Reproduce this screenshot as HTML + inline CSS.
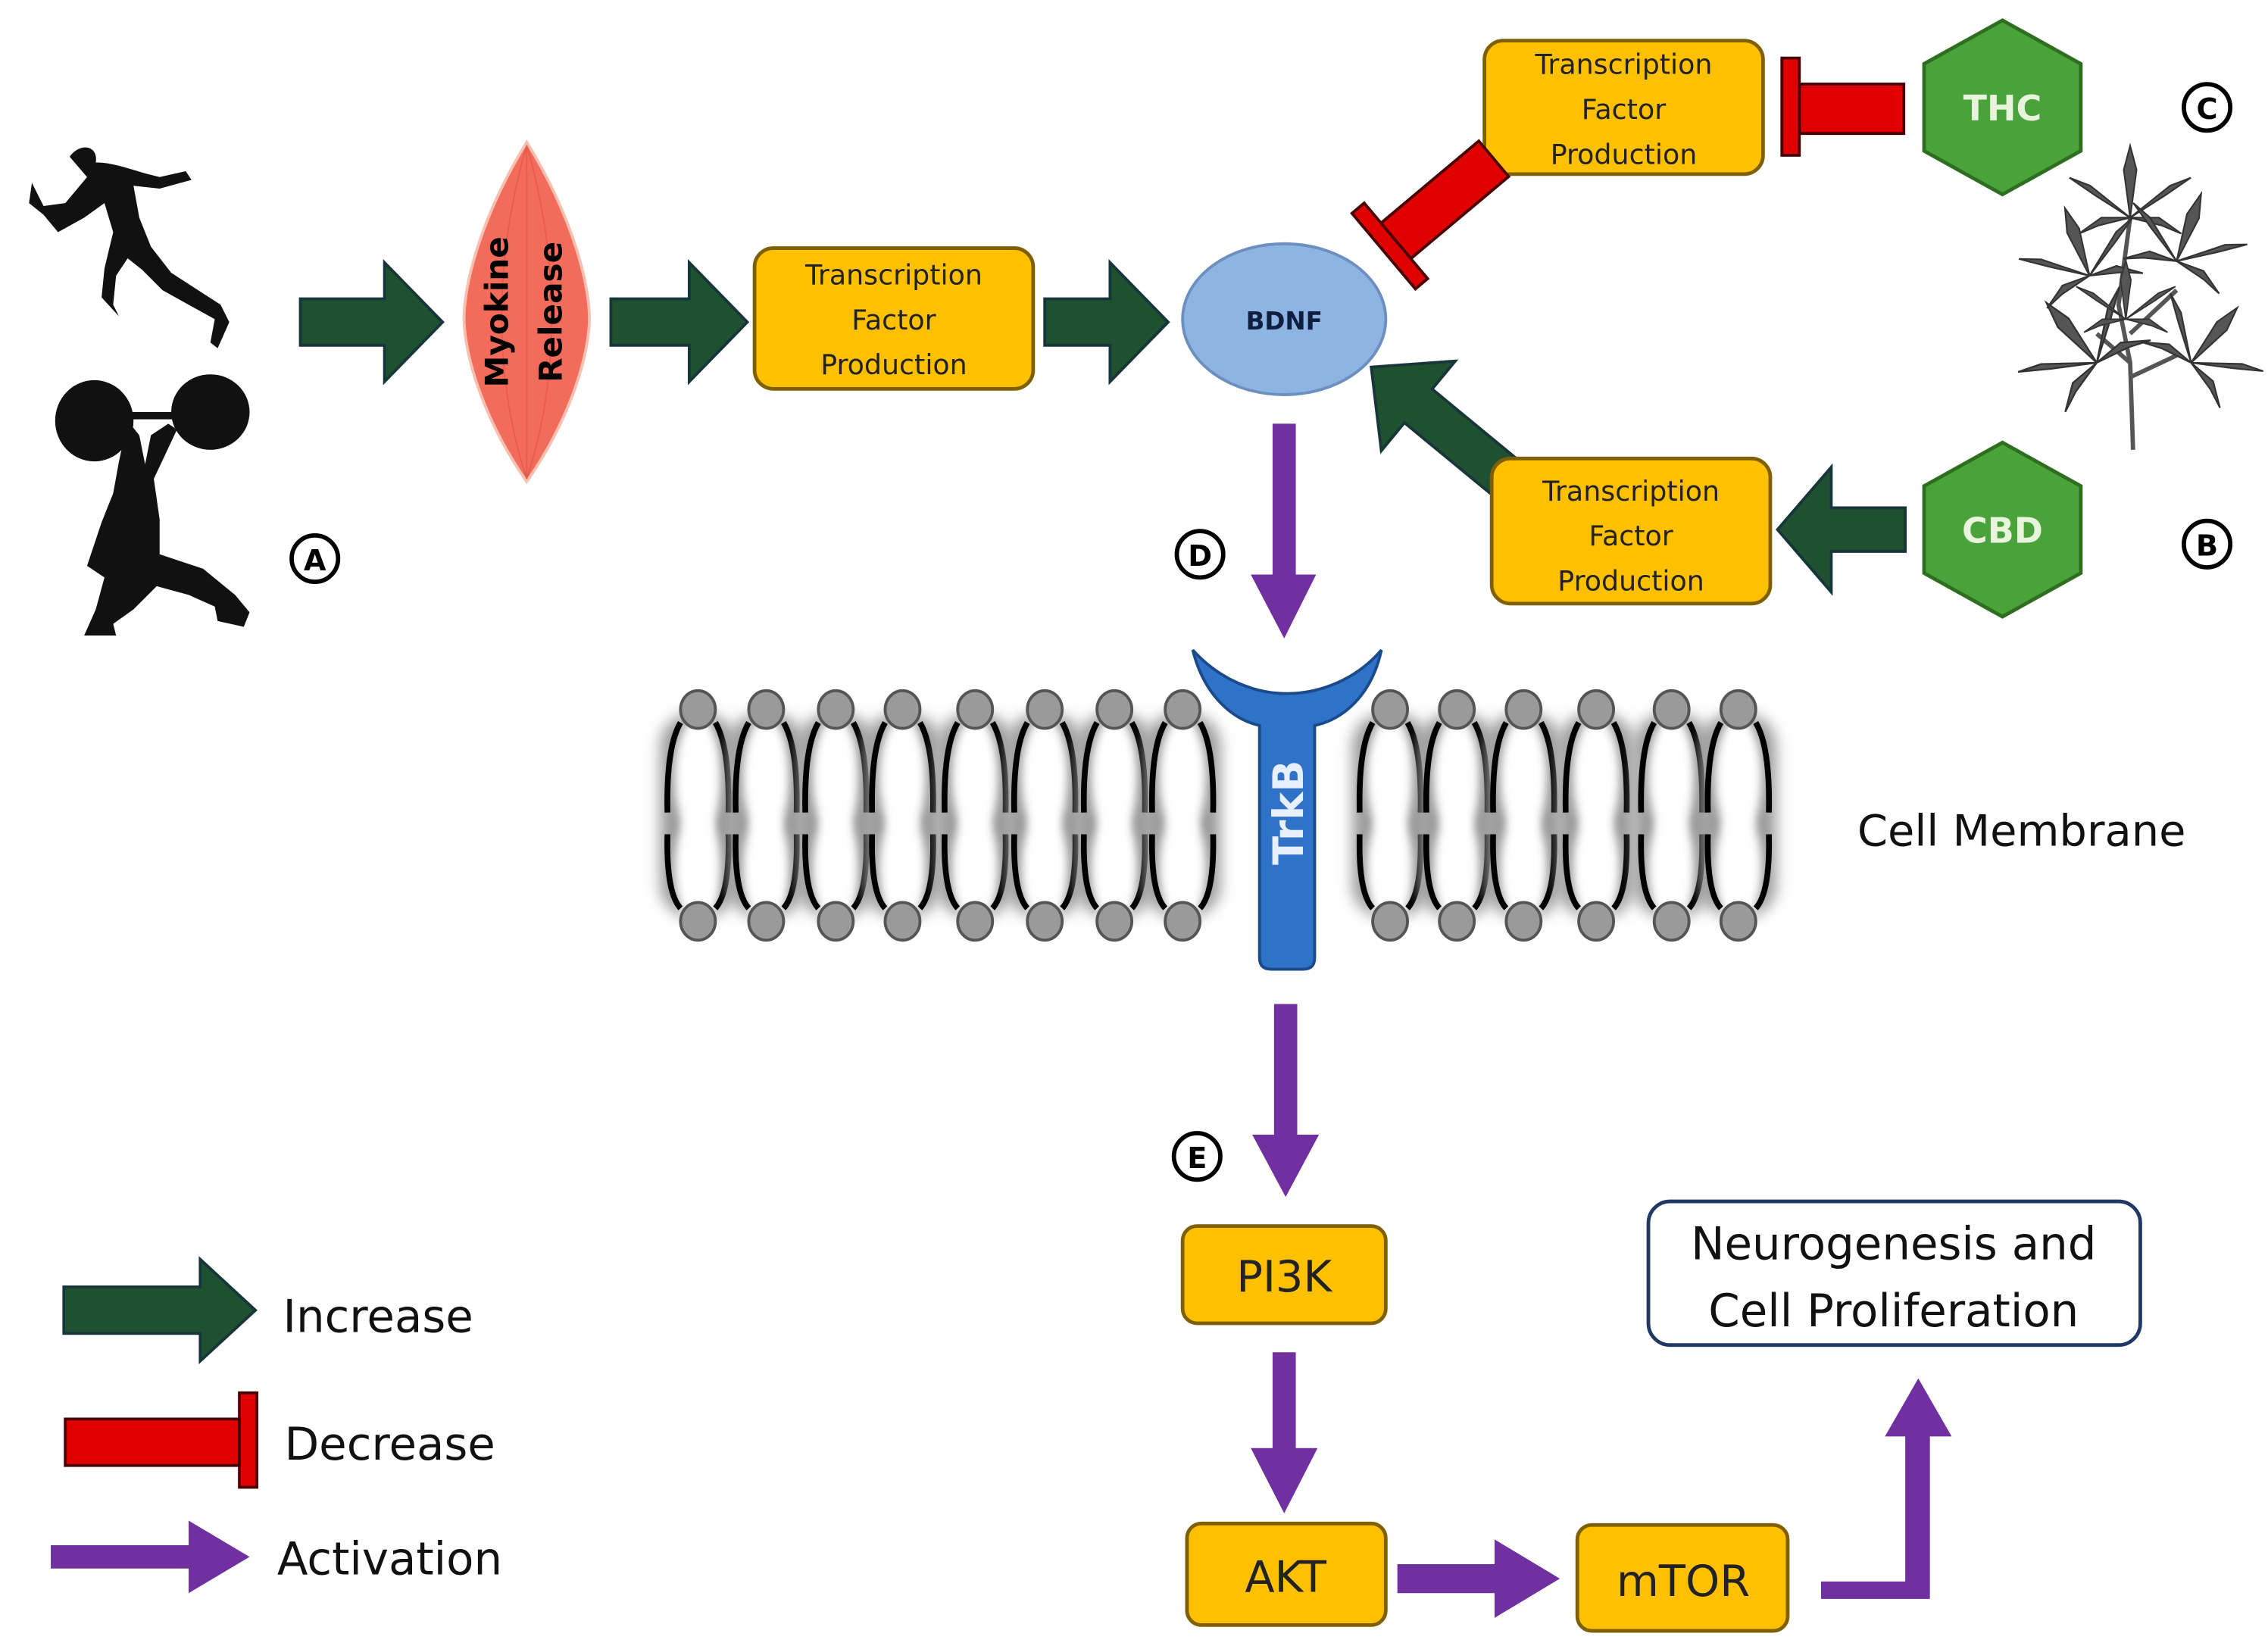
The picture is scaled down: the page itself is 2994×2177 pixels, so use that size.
<!DOCTYPE html>
<html><head><meta charset="utf-8"><style>
html,body{margin:0;padding:0;background:#fff;}
svg{display:block;}
text{font-family:"DejaVu Sans","Liberation Sans",sans-serif;}
</style></head><body>
<svg width="2994" height="2177" viewBox="0 0 1563 1136.5" preserveAspectRatio="none" xmlns="http://www.w3.org/2000/svg">
<defs>
<filter id="bl" x="-50%" y="-20%" width="200%" height="140%"><feGaussianBlur stdDeviation="5"/></filter>
<filter id="bl2"><feGaussianBlur stdDeviation="3"/></filter>
<g id="lip">
  <rect x="-26" y="492" width="52" height="140" rx="22" fill="#9a9a9a" filter="url(#bl)"/>
  <ellipse cx="0" cy="536" rx="16" ry="42" fill="#fff" filter="url(#bl2)"/>
  <ellipse cx="0" cy="598" rx="16" ry="40" fill="#fff" filter="url(#bl2)"/>
  <path d="M-12,498 Q-22,515 -21,560 M12,498 Q22,515 21,560 M-21,575 Q-22,615 -12,626 M21,575 Q22,615 12,626" stroke="#000" stroke-width="4" fill="none"/>
  <ellipse cx="0" cy="489" rx="12" ry="13" fill="#9a9a9a" stroke="#555" stroke-width="2"/>
  <ellipse cx="0" cy="635" rx="12" ry="13" fill="#9a9a9a" stroke="#555" stroke-width="2"/>
</g>
<g id="leaf" fill="#555" stroke="#333" stroke-width="1">
  <path d="M0,0 L-4,-30 L0,-45 L4,-30Z"/>
  <path d="M0,0 L-25,-20 L-38,-25 L-22,-14Z"/>
  <path d="M0,0 L25,-20 L38,-25 L22,-14Z"/>
  <path d="M0,0 L-20,5 L-32,10 L-18,0Z"/>
  <path d="M0,0 L20,5 L32,10 L18,0Z"/>
</g>
</defs>

<!-- runner -->
<path d="M48,108 C55,98 68,100 66,112 C80,112 92,118 110,122 L128,118 L132,124 L110,130 L92,128 L96,150 L104,170 L118,188 L152,210 L158,222 L150,240 L145,236 L148,220 L112,200 L98,186 L88,178 L80,190 L78,210 L82,218 L70,205 L72,185 L78,160 L72,140 L58,150 L40,160 L30,148 L20,140 L22,126 L30,142 L45,140 L60,122 Z" fill="#111"/>
<!-- weightlifter -->
<ellipse cx="65" cy="290" rx="27" ry="28" fill="#111"/>
<ellipse cx="145" cy="284" rx="27" ry="26" fill="#111"/>
<rect x="85" y="284" width="40" height="5" fill="#111"/>
<path d="M88,290 L96,300 L100,320 L104,300 L116,292 L122,296 L106,330 L110,358 L110,382 L140,392 L162,410 L172,422 L168,432 L150,428 L148,418 L130,410 L108,404 L92,420 L78,430 L80,438 L58,438 L66,420 L72,398 L60,390 L70,360 L78,340 L82,318 Z" fill="#111"/>
<circle cx="217" cy="385" r="16" fill="#fff" stroke="#000" stroke-width="3"/>
<text x="217" y="393" font-size="20" text-anchor="middle" font-weight="bold">A</text>

<!-- green arrows -->
<g fill="#1f5130" stroke="#17363a" stroke-width="2">
<path d="M207,206 L265,206 L265,181 L305,222 L265,263 L265,238 L207,238Z"/>
<path d="M421,206 L475,206 L475,181 L515,222 L475,263 L475,238 L421,238Z"/>
<path d="M720,206 L765,206 L765,181 L805,222 L765,263 L765,238 L720,238Z"/>
<path d="M1313,350 L1262,350 L1262,322 L1225,365 L1262,408 L1262,380 L1313,380Z"/>
<path d="M-118,-15 L-42,-15 L-42,-40 L0,0 L-42,40 L-42,15 L-118,15Z" transform="translate(945,253) rotate(219.5)"/>
<path d="M44,887 L138,887 L138,868 L176,903 L138,938 L138,919 L44,919Z"/>
</g>

<!-- muscle -->
<path d="M363,98 C395,150 408,200 406,225 C404,250 392,290 363,332 C334,290 322,250 320,225 C318,200 331,150 363,98Z" fill="#f26b5b" stroke="#f8c0b0" stroke-width="2"/>
<g stroke="#e05545" stroke-width="1" fill="none" opacity="0.6">
<path d="M363,100 C340,180 340,260 363,330"/><path d="M363,100 C386,180 386,260 363,330"/><path d="M363,100 L363,330"/>
</g>
<text transform="translate(350,215) rotate(-90)" font-size="22" font-weight="bold" text-anchor="middle">Myokine</text>
<text transform="translate(387,215) rotate(-90)" font-size="22" font-weight="bold" text-anchor="middle">Release</text>

<!-- TF boxes -->
<g fill="#ffc000" stroke="#7f6000" stroke-width="2.5">
<rect x="520" y="171" width="192" height="97" rx="13"/>
<rect x="1023" y="28" width="192" height="92" rx="13"/>
<rect x="1028" y="316" width="192" height="100" rx="13"/>
<rect x="815" y="845" width="140" height="67" rx="10"/>
<rect x="818" y="1050" width="137" height="70" rx="10"/>
<rect x="1087" y="1051" width="145" height="73" rx="10"/>
</g>
<g font-size="19" text-anchor="middle" fill="#222">
<text x="616" y="196">Transcription</text><text x="616" y="227">Factor</text><text x="616" y="258">Production</text>
<text x="1119" y="51">Transcription</text><text x="1119" y="82">Factor</text><text x="1119" y="113">Production</text>
<text x="1124" y="345">Transcription</text><text x="1124" y="376">Factor</text><text x="1124" y="407">Production</text>
</g>
<g font-size="30" text-anchor="middle" fill="#222">
<text x="885" y="890">PI3K</text><text x="886" y="1097">AKT</text><text x="1160" y="1100">mTOR</text>
</g>

<!-- BDNF -->
<ellipse cx="885" cy="220" rx="70" ry="52" fill="#8eb4e3" stroke="#6d8fc0" stroke-width="2"/>
<text x="885" y="227" font-size="17" font-weight="bold" text-anchor="middle" fill="#0f1f40">BDNF</text>

<!-- red inhibitors -->
<g fill="#e00000" stroke="#4a0000" stroke-width="2">
<path d="M1240,58 L1312,58 L1312,92 L1240,92Z"/>
<path d="M1228,40 L1240,40 L1240,107 L1228,107Z"/>
<path d="M-88,-16 L0,-16 L0,16 L-88,16Z" transform="translate(962,166) rotate(140)"/>
<path d="M0,-34 L11,-34 L11,34 L0,34Z" transform="translate(962,166) rotate(140)"/>
<path d="M45,978 L165,978 L165,1010 L45,1010Z"/>
<path d="M165,960 L177,960 L177,1025 L165,1025Z"/>
</g>

<!-- hexagons -->
<g fill="#4aa23a" stroke="#2d6e1f" stroke-width="2.5">
<path d="M1380,14 L1434,44 L1434,104 L1380,134 L1326,104 L1326,44Z"/>
<path d="M1380,305 L1434,335 L1434,395 L1380,425 L1326,395 L1326,335Z"/>
</g>
<text x="1380" y="83" font-size="24" font-weight="bold" text-anchor="middle" fill="#e8f5dc">THC</text>
<text x="1380" y="374" font-size="24" font-weight="bold" text-anchor="middle" fill="#e8f5dc">CBD</text>
<circle cx="1521" cy="74" r="16" fill="#fff" stroke="#000" stroke-width="3"/>
<text x="1521" y="82" font-size="20" text-anchor="middle" font-weight="bold">C</text>
<circle cx="1521" cy="375" r="16" fill="#fff" stroke="#000" stroke-width="3"/>
<text x="1521" y="383" font-size="20" text-anchor="middle" font-weight="bold">B</text>

<!-- cannabis plant -->
<path d="M1470,310 L1468,250 L1460,210 L1468,150 M1468,250 L1445,230 M1468,230 L1500,200 M1468,260 L1500,245" stroke="#555" stroke-width="3" fill="none"/>
<use href="#leaf" transform="translate(1468,150) scale(1.1)"/>
<use href="#leaf" transform="translate(1440,190) rotate(-20) scale(1.1)"/>
<use href="#leaf" transform="translate(1500,180) rotate(20) scale(1.1)"/>
<use href="#leaf" transform="translate(1445,250) rotate(-40) scale(1.2)"/>
<use href="#leaf" transform="translate(1510,250) rotate(40) scale(1.1)"/>
<use href="#leaf" transform="translate(1465,220) scale(0.9)"/>

<!-- purple arrows -->
<g fill="#7030a0">
<path d="M877,292 L893,292 L893,396 L907,396 L885,440 L862,396 L877,396Z"/>
<path d="M878,692 L894,692 L894,782 L909,782 L886,825 L863,782 L878,782Z"/>
<path d="M877,932 L893,932 L893,998 L908,998 L885,1043 L862,998 L877,998Z"/>
<path d="M963,1078 L1030,1078 L1030,1061 L1075,1088 L1030,1115 L1030,1098 L963,1098Z"/>
<path d="M1255,1090 L1313,1090 L1313,990 L1299,990 L1322,950 L1345,990 L1330,990 L1330,1102 L1255,1102Z"/>
<path d="M35,1065 L130,1065 L130,1048 L172,1073 L130,1098 L130,1081 L35,1081Z"/>
</g>
<circle cx="827" cy="382" r="16" fill="#fff" stroke="#000" stroke-width="3"/>
<text x="827" y="390" font-size="20" text-anchor="middle" font-weight="bold">D</text>
<circle cx="825" cy="797" r="16" fill="#fff" stroke="#000" stroke-width="3"/>
<text x="825" y="805" font-size="20" text-anchor="middle" font-weight="bold">E</text>

<!-- membrane -->
<use href="#lip" x="481"/><use href="#lip" x="528"/><use href="#lip" x="576"/><use href="#lip" x="622"/>
<use href="#lip" x="672"/><use href="#lip" x="720"/><use href="#lip" x="768"/><use href="#lip" x="815"/>
<use href="#lip" x="958"/><use href="#lip" x="1004"/><use href="#lip" x="1050"/><use href="#lip" x="1100"/>
<use href="#lip" x="1152"/><use href="#lip" x="1198"/>

<!-- TrkB -->
<path d="M822,448 C830,480 850,496 868,500 L868,660 Q868,668 876,668 L898,668 Q906,668 906,660 L906,500 C925,496 945,480 952,448 C935,468 910,478 887,478 C864,478 840,468 822,448Z" fill="#2f73c8" stroke="#1a4a8a" stroke-width="2"/>
<text transform="translate(898,560) rotate(-90)" font-size="29" font-weight="bold" text-anchor="middle" fill="#e8f0ff">TrkB</text>

<text x="1280" y="583" font-size="30" fill="#111">Cell Membrane</text>

<!-- outcome -->
<rect x="1136" y="828" width="339" height="99" rx="15" fill="#fff" stroke="#1f3864" stroke-width="2.5"/>
<text x="1305" y="868" font-size="31" text-anchor="middle" fill="#111">Neurogenesis and</text>
<text x="1305" y="914" font-size="31" text-anchor="middle" fill="#111">Cell Proliferation</text>

<!-- legend -->
<text x="195" y="918" font-size="31" fill="#111">Increase</text>
<text x="196" y="1006" font-size="31" fill="#111">Decrease</text>
<text x="191" y="1085" font-size="31" fill="#111">Activation</text>
</svg>
</body></html>
